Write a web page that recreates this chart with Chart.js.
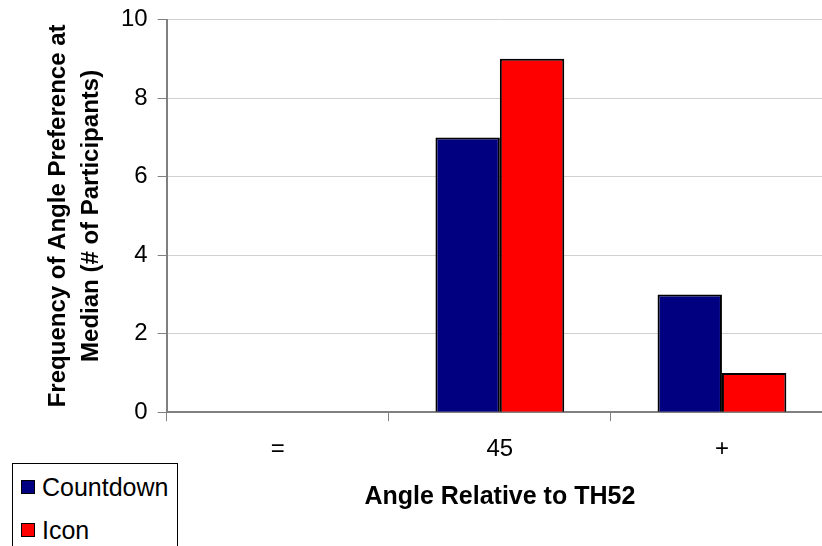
<!DOCTYPE html>
<html>
<head>
<meta charset="utf-8">
<script src="https://cdn.jsdelivr.net/npm/chart.js@4"></script>
<style>
  html, body { margin: 0; padding: 0; background: #fff; }
  #wrap { position: relative; width: 822px; height: 546px; overflow: hidden; }
  #legend {
    position: absolute; left: 12px; top: 463px; width: 164px; height: 100px;
    border: 1px solid #000; background: #fff;
    font-family: "Liberation Sans", Arial, sans-serif; font-size: 25px; color: #000;
  }
  #legend .item { position: absolute; left: 8px; display: flex; align-items: center; height: 28px; }
  #legend .box { width: 12px; height: 12px; border: 1px solid #000; margin-right: 7px; }
</style>
</head>
<body>
<div id="wrap">
  <!-- plot area runs past the right edge, as in the original -->
  <canvas id="chart" width="833" height="546"></canvas>
  <div id="legend"></div>
</div>
<script>
// chart values
const categories = ['=', '45', '+'];
const countdownValues = [0, 7, 3];
const iconValues = [0, 9, 1];
const yTicks = [0, 2, 4, 6, 8, 10];

const seriesNames = ['Countdown', 'Icon'];
const seriesColors = ['#000080', '#ff0000'];

const font = "'Liberation Sans', Arial, sans-serif";

const ctx = document.getElementById('chart').getContext('2d');
const chart = new Chart(ctx, {
    type: 'bar',
    data: {
        labels: categories,
        datasets: [
            {
                label: seriesNames[0],
                data: countdownValues,
                backgroundColor: seriesColors[0],
                borderColor: '#000',
                borderWidth: 2
            },
            {
                label: seriesNames[1],
                data: iconValues,
                backgroundColor: seriesColors[1],
                borderColor: '#000',
                borderWidth: 2
            }
        ]
    },
    options: {
        responsive: false,
        animation: false,
        categoryPercentage: 0.58,
        barPercentage: 1,
        layout: { padding: { top: 0, right: 0, bottom: 34, left: 42 } },
        plugins: { legend: { display: false }, tooltip: { enabled: false } },
        scales: {
            x: {
                grid: { offset: true, drawOnChartArea: false, tickLength: 9, tickColor: '#808080' },
                border: { color: '#808080', width: 2 },
                ticks: { color: '#000', font: { family: font, size: 24 }, padding: 14 },
                title: {
                    display: true, text: 'Angle Relative to TH52', color: '#000',
                    font: { family: font, size: 25, weight: 'bold' }, padding: { top: 4, bottom: 0 }
                }
            },
            y: {
                min: 0, max: 10,
                afterBuildTicks: (axis) => { axis.ticks = yTicks.map(v => ({ value: v })); },
                grid: { color: '#d0d0d0', tickLength: 9, tickColor: '#808080' },
                border: { color: '#808080', width: 2 },
                ticks: { color: '#000', font: { family: font, size: 24, lineHeight: 0.8 }, padding: 10 },
                title: {
                    display: true, text: ['Frequency of Angle Preference at', 'Median (# of Participants)'],
                    color: '#000', font: { family: font, size: 24, weight: 'bold', lineHeight: 1.375 },
                    padding: { top: 0, bottom: 3 }
                }
            }
        }
    }
});

// legend drawn from the datasets
const legend = document.getElementById('legend');
chart.data.datasets.forEach((ds, i) => {
    const item = document.createElement('div');
    item.className = 'item';
    item.style.top = (9 + i * 43) + 'px';
    item.innerHTML = '<div class="box" style="background:' + ds.backgroundColor + '"></div><span>' + ds.label + '</span>';
    legend.appendChild(item);
});
</script>
</body>
</html>
